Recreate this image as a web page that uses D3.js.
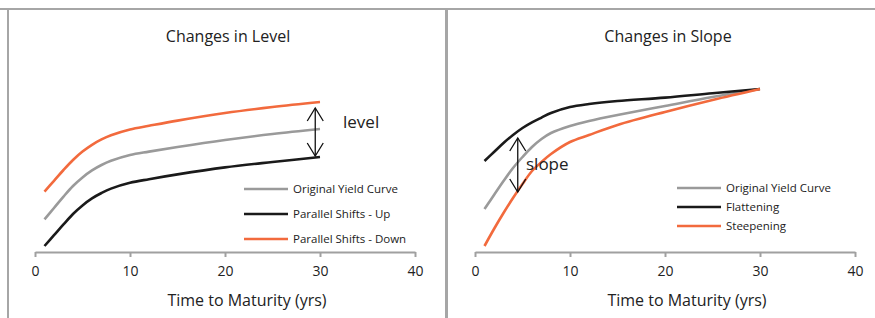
<!DOCTYPE html>
<html>
<head>
<meta charset="utf-8">
<script src="https://cdn.jsdelivr.net/npm/d3@7"></script>
<style>
  body { margin: 0; background: #fff; }
  text { font-family: "Open Sans", "Noto Sans", sans-serif; fill: #222; }
</style>
</head>
<body>
<div class="canvas"></div>
<script>
// maturities in years
const maturities = [1, 2, 3, 4, 5, 6, 7, 8, 10, 12, 15, 20, 25, 30];

// left panel: changes in level
const levelOriginal = [1.63, 2.2, 2.77, 3.3, 3.73, 4.08, 4.35, 4.56, 4.85, 5.02, 5.25, 5.6, 5.9, 6.15];
const levelUp = [0.3, 0.84, 1.38, 1.9, 2.33, 2.68, 2.95, 3.17, 3.46, 3.64, 3.88, 4.23, 4.5, 4.75];
const levelDown = [3.02, 3.56, 4.1, 4.6, 5.02, 5.36, 5.63, 5.84, 6.13, 6.31, 6.57, 6.95, 7.25, 7.5];

// right panel: changes in slope
const slopeOriginal = [2.15, 2.85, 3.55, 4.2, 4.75, 5.25, 5.65, 5.95, 6.3, 6.55, 6.85, 7.3, 7.75, 8.15];
const slopeFlat = [4.55, 5.0, 5.45, 5.85, 6.2, 6.48, 6.72, 6.95, 7.25, 7.4, 7.55, 7.72, 7.94, 8.15];
const slopeSteep = [0.3, 1.15, 1.95, 2.7, 3.4, 4.05, 4.5, 4.9, 5.5, 5.85, 6.35, 7.0, 7.6, 8.15];

const xTicks = [0, 10, 20, 30, 40];
const levelNames = ['Original Yield Curve', 'Parallel Shifts - Up', 'Parallel Shifts - Down'];
const slopeNames = ['Original Yield Curve', 'Flattening', 'Steepening'];
const colors = ['#9a9a9a', '#1a1a1a', '#f26a3d'];

const svg = d3.select('.canvas')
    .append('svg')
    .attr('width', 875)
    .attr('height', 318);

// panel borders
svg.append('rect').attr('x', 0).attr('y', 8).attr('width', 875).attr('height', 2).attr('fill', '#a6a6a6');
svg.append('rect').attr('x', 7).attr('y', 8).attr('width', 2).attr('height', 310).attr('fill', '#a6a6a6');
svg.append('rect').attr('x', 445).attr('y', 8).attr('width', 3).attr('height', 310).attr('fill', '#a6a6a6');

function drawPanel(opt) {
    const x = d3.scaleLinear().domain([0, 40]).range([opt.x0, opt.x0 + 380]);
    const y = d3.scaleLinear().domain([0, 10]).range([252, 52]);
    const g = svg.append('g');

    // axis
    const axis = g.append('g')
        .attr('transform', 'translate(0,252)')
        .call(d3.axisBottom(x).tickValues(xTicks).tickSize(5).tickPadding(9).tickSizeOuter(0));
    axis.select('.domain').attr('stroke', '#a0a0a0').attr('stroke-width', 2);
    axis.selectAll('.tick line').attr('stroke', '#a0a0a0').attr('stroke-width', 2);
    axis.selectAll('.tick text')
        .style('font-family', '"Open Sans", sans-serif')
        .style('font-size', '14px')
        .attr('fill', '#222');

    g.append('text')
        .attr('x', opt.labelX)
        .attr('y', 306)
        .attr('text-anchor', 'middle')
        .style('font-size', '16px')
        .text('Time to Maturity (yrs)');

    g.append('text')
        .attr('x', opt.titleX)
        .attr('y', 42)
        .attr('text-anchor', 'middle')
        .style('font-size', '16px')
        .text(opt.title);

    const line = d3.line()
        .x((d, i) => x(maturities[i]))
        .y(d => y(d))
        .curve(d3.curveCatmullRom.alpha(0.5));

    // draw original first, then the shifted curves
    opt.series.forEach((s, i) => {
        g.append('path')
            .datum(s)
            .attr('d', line)
            .attr('fill', 'none')
            .attr('stroke', colors[i])
            .attr('stroke-width', 2.6);
    });

    // legend
    opt.names.forEach((n, i) => {
        const ly = opt.legendY + i * opt.legendStep;
        g.append('line')
            .attr('x1', opt.legendX).attr('x2', opt.legendX + 44)
            .attr('y1', ly).attr('y2', ly)
            .attr('stroke', colors[i])
            .attr('stroke-width', 2.6);
        g.append('text')
            .attr('x', opt.legendX + 49)
            .attr('y', ly)
            .attr('dy', '0.35em')
            .style('font-size', '11.5px')
            .text(n);
    });

    // double arrow annotation
    const ax = x(opt.arrow[0]);
    const y1 = y(opt.arrow[1]);
    const y2 = y(opt.arrow[2]);
    const arrow = g.append('g').attr('fill', 'none').attr('stroke', '#111').attr('stroke-width', 1.3);
    arrow.append('line').attr('x1', ax).attr('x2', ax).attr('y1', y1).attr('y2', y2);
    arrow.append('path').attr('d', `M${ax - 8},${y1 + 13}L${ax},${y1}L${ax + 8},${y1 + 13}`);
    arrow.append('path').attr('d', `M${ax - 8},${y2 - 13}L${ax},${y2}L${ax + 8},${y2 - 13}`);

    g.append('text')
        .attr('x', opt.noteX)
        .attr('y', opt.noteY)
        .attr('dy', '0.35em')
        .style('font-size', '17px')
        .text(opt.note);
}

drawPanel({
    x0: 35,
    title: 'Changes in Level',
    titleX: 228,
    labelX: 247,
    series: [levelOriginal, levelUp, levelDown],
    names: levelNames,
    legendX: 244,
    legendY: 189,
    legendStep: 25,
    arrow: [29.5, 7.2, 4.8],
    note: 'level',
    noteX: 343,
    noteY: 122
});

drawPanel({
    x0: 475,
    title: 'Changes in Slope',
    titleX: 668,
    labelX: 687,
    series: [slopeOriginal, slopeFlat, slopeSteep],
    names: slopeNames,
    legendX: 677,
    legendY: 188,
    legendStep: 19,
    arrow: [4.5, 5.7, 3.0],
    note: 'slope',
    noteX: 526,
    noteY: 164
});
</script>
</body>
</html>
